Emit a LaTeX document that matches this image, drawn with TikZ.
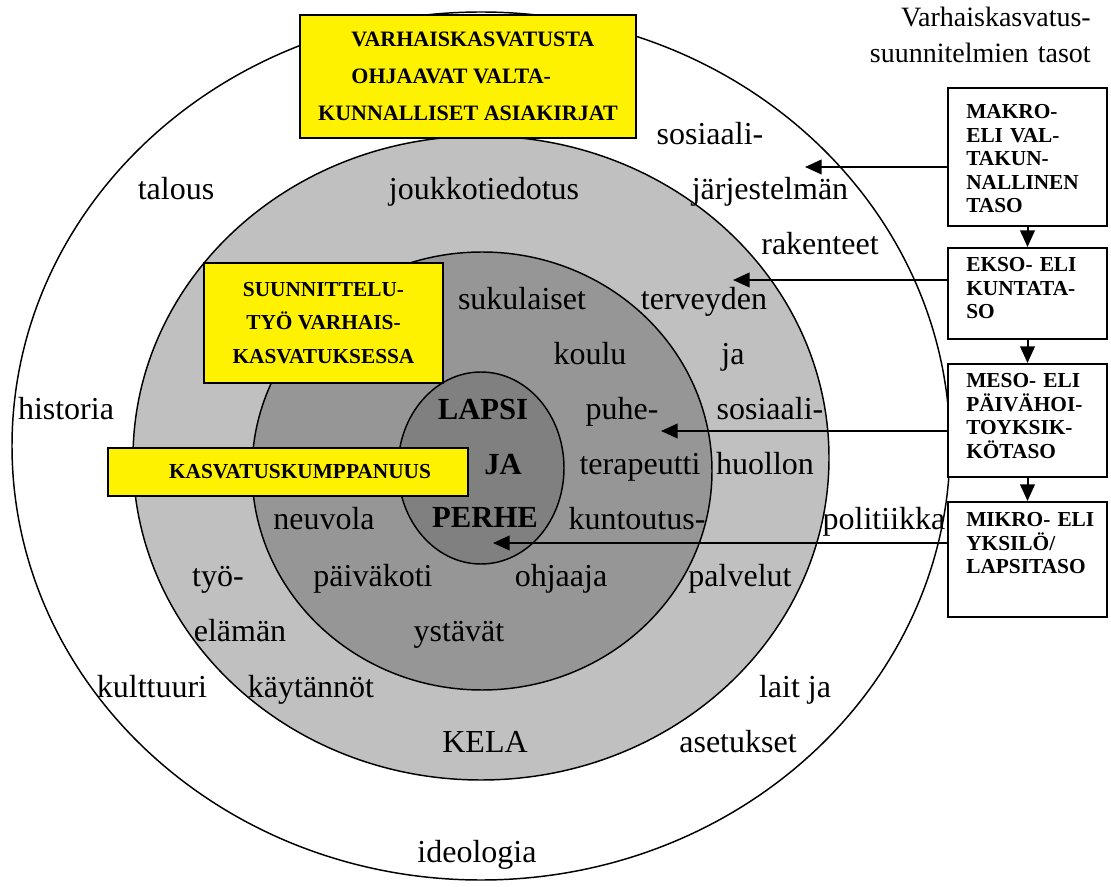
\documentclass[tikz,border=0pt]{standalone}
\usepackage{fontspec}
\setmainfont{Liberation Serif}
\usetikzlibrary{shapes.geometric,arrows.meta}
\definecolor{gA}{HTML}{C0C0C0}
\definecolor{gB}{HTML}{969696}
\definecolor{gC}{HTML}{808080}
\begin{document}
\begin{tikzpicture}[x=0.75pt,y=-0.75pt,
  ring/.style={ellipse, draw, line width=1.1pt, inner sep=0pt},
  ybox/.style={draw, line width=1.5pt, fill=yellow, inner sep=0pt, align=center, font=\fontsize{16}{25}\selectfont\bfseries},
  lbox/.style={draw, line width=1.5pt, fill=white, inner sep=0pt, minimum width=119.25pt},
  ltext/.style={anchor=base west, inner sep=0pt, text width=110pt, align=left, font=\fontsize{16}{17.6}\selectfont\bfseries},
  word/.style={anchor=base, inner sep=0pt, font=\fontsize{24}{28}\selectfont},
  big/.style={anchor=base, inner sep=0pt, font=\fontsize{23}{28}\selectfont\bfseries},
  arr/.style={line width=1.5pt, -{Triangle[length=12.5pt,width=11pt]}}
]
\useasboundingbox (0,0) rectangle (1111,887);
% rings
\node[ring, fill=white, minimum width=703.5pt, minimum height=651pt] (outer) at (481,446) {};
\node[ring, fill=gA, minimum width=522pt, minimum height=483pt] (middle) at (481,458) {};
\node[ring, fill=gB, minimum width=345pt, minimum height=328.5pt] (inner) at (482,471) {};
\node[ring, fill=gC, minimum width=124.5pt, minimum height=144pt] (core) at (481,468) {};
% yellow boxes
\node[ybox, align=left, font=\fontsize{16.5}{27.75}\selectfont\bfseries, minimum width=252pt, minimum height=92.25pt] (vbox) at (468,76.5)
  {\hspace*{25pt}VARHAISKASVATUSTA\\\hspace*{25pt}OHJAAVAT VALTA-\\KUNNALLISET ASIAKIRJAT};
\node[ybox, minimum width=179.25pt, minimum height=90pt] (sbox) at (323.5,323)
  {SUUNNITTELU-\\TYÖ VARHAIS-\\KASVATUKSESSA};
\node[ybox, minimum width=270pt, minimum height=36pt] (kbox) at (288,472)
  {\hspace*{18pt}KASVATUSKUMPPANUUS};
% header
\node[anchor=base east, inner sep=0pt, text width=170pt, align=right, font=\fontsize{21}{27}\selectfont] (hdr) at (1091,27)
  {Varhaiskasvatus-\\suunnitelmien tasot};
% right boxes
\node[lbox, minimum height=103.5pt] (b1) at (1027.5,157) {};
\node[lbox, minimum height=68.25pt] (b2) at (1027.5,293.5) {};
\node[lbox, minimum height=84.75pt] (b3) at (1027.5,420.5) {};
\node[lbox, minimum height=86.25pt] (b4) at (1027.5,559.5) {};
\node[ltext] (t1) at (966,119) {MAKRO-\\ELI VAL-\\TAKUN-\\NALLINEN\\TASO};
\node[ltext] (t2) at (966,272) {EKSO- ELI\\KUNTATA-\\SO};
\node[ltext] (t3) at (966,388) {MESO- ELI\\PÄIVÄHOI-\\TOYKSIK-\\KÖTASO};
\node[ltext] (t4) at (966,527) {MIKRO- ELI\\YKSILÖ/\\LAPSITASO};
% words
\node[word] (w1) at (176,200) {talous};
\node[word] (w2) at (484,200) {joukkotiedotus};
\node[word] (w3) at (710,145) {sosiaali-};
\node[word] (w4) at (770,200) {järjestelmän};
\node[word] (w5) at (820,255) {rakenteet};
\node[word] (w6) at (522,310) {sukulaiset};
\node[word] (w7) at (704,310) {terveyden};
\node[word] (w8) at (590,365) {koulu};
\node[word] (w9) at (733,365) {ja};
\node[word] (w10) at (66,420) {historia};
\node[word] (w11) at (622,420) {puhe-};
\node[word] (w12) at (770,420) {sosiaali-};
\node[word] (w13) at (640,475) {terapeutti};
\node[word] (w14) at (765,475) {huollon};
\node[word] (w15) at (324,530) {neuvola};
\node[word] (w16) at (637,530) {kuntoutus-};
\node[word] (w17) at (884,530) {politiikka};
\node[word] (w18) at (218,587) {työ-};
\node[word] (w19) at (373,587) {päiväkoti};
\node[word] (w20) at (561,587) {ohjaaja};
\node[word] (w21) at (740,587) {palvelut};
\node[word] (w22) at (240,642) {elämän};
\node[word] (w23) at (459,642) {ystävät};
\node[word] (w24) at (152,697) {kulttuuri};
\node[word] (w25) at (311,697) {käytännöt};
\node[word] (w26) at (795,697) {lait ja};
\node[word] (w27) at (485,752) {KELA};
\node[word] (w28) at (738,752) {asetukset};
\node[word] (w29) at (477,862) {ideologia};
\node[big] (c1) at (483,420) {LAPSI};
\node[big] (c2) at (503,475) {JA};
\node[big] (c3) at (485,528) {PERHE};
% arrows
\coordinate (e1) at (805,167);
\coordinate (e2) at (733,280);
\coordinate (e3) at (661,431);
\coordinate (e4) at (493,543);
\draw[arr] (b1.west |- e1) -- (e1);
\draw[arr] (b2.west |- e2) -- (e2);
\draw[arr] (b3.west |- e3) -- (e3);
\draw[arr] (b4.west |- e4) -- (e4);
\draw[arr] (b1.south) -- (b2.north);
\draw[arr] (b2.south) -- (b3.north);
\draw[arr] (b3.south) -- (b4.north);
\end{tikzpicture}
\end{document}
